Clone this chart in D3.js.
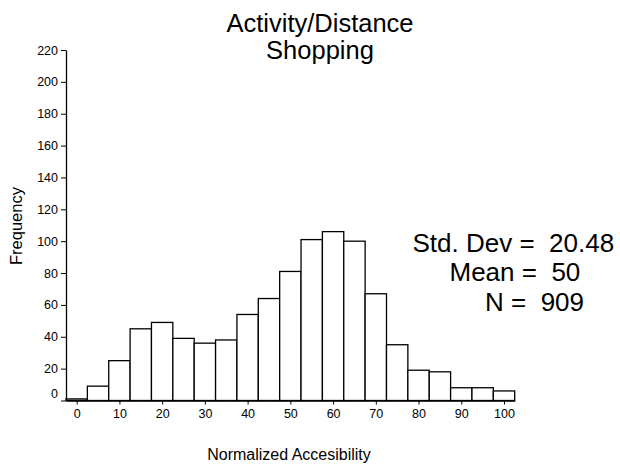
<!DOCTYPE html>
<html>
<head>
<meta charset="utf-8">
<script src="https://cdn.jsdelivr.net/npm/d3@7"></script>
<style>
  html, body { margin: 0; padding: 0; background: #fff; }
  text { font-family: Arial, "Liberation Sans", sans-serif; fill: #000; }
</style>
</head>
<body>
<svg id="chart" width="620" height="466"></svg>
<script>
// Data
const binCenters = [0, 5, 10, 15, 20, 25, 30, 35, 40, 45, 50, 55, 60, 65, 70, 75, 80, 85, 90, 95, 100];
const frequencies = [1, 9, 25, 45, 49, 39, 36, 38, 54, 64, 81, 101, 106, 100, 67, 35, 19, 18, 8, 8, 6];
const xTicks = [0, 10, 20, 30, 40, 50, 60, 70, 80, 90, 100];
const yTicks = [0, 20, 40, 60, 80, 100, 120, 140, 160, 180, 200, 220];
const titleLines = ["Activity/Distance", "Shopping"];
const statsLines = ["Std. Dev =  20.48", "Mean =  50", "N =  909"];
const binWidth = 5;

const svg = d3.select("#chart");

const x = d3.scaleLinear().domain([-2.5, 102.5]).range([66, 514.7]);
const y = d3.scaleLinear().domain([0, 220]).range([400.5, 50]);

// Bars
svg.append("g").selectAll("rect")
  .data(binCenters.map((c, i) => ({ c, v: frequencies[i] })))
  .join("rect")
  .attr("x", d => x(d.c - binWidth / 2))
  .attr("y", d => y(d.v))
  .attr("width", d => x(d.c + binWidth / 2) - x(d.c - binWidth / 2))
  .attr("height", d => y(0) - y(d.v))
  .attr("fill", "#fff")
  .attr("stroke", "#000")
  .attr("stroke-width", 1.3);

// Y axis
const yAxis = svg.append("g")
  .attr("transform", `translate(${x(-2.5)},0)`)
  .call(d3.axisLeft(y).tickValues(yTicks).tickSize(5).tickPadding(3).tickSizeOuter(0));
yAxis.select(".domain").attr("stroke-width", 1.3);
yAxis.selectAll("text").style("font-size", "12.5px").attr("font-family", "Arial, 'Liberation Sans', sans-serif");
yAxis.selectAll(".tick").filter(d => d === 0).select("text").attr("dy", "-0.25em");

// X axis
const xAxis = svg.append("g")
  .attr("transform", `translate(0,${y(0)})`)
  .call(d3.axisBottom(x).tickValues(xTicks).tickSize(4).tickPadding(5).tickSizeOuter(0));
xAxis.select(".domain").attr("stroke-width", 1.3);
xAxis.selectAll("text").style("font-size", "12.5px").attr("font-family", "Arial, 'Liberation Sans', sans-serif");

// Title
svg.append("g").selectAll("text")
  .data(titleLines)
  .join("text")
  .attr("x", 320)
  .attr("y", (d, i) => 31.5 + i * 27)
  .attr("text-anchor", "middle")
  .style("font-size", "25.5px")
  .text(d => d);

// Axis titles
svg.append("text")
  .attr("x", 289)
  .attr("y", 460)
  .attr("text-anchor", "middle")
  .style("font-size", "16px")
  .text("Normalized Accesibility");

svg.append("text")
  .attr("transform", "translate(22,226) rotate(-90)")
  .attr("text-anchor", "middle")
  .style("font-size", "16.5px")
  .text("Frequency");

// Stats
const statsX = [412.5, 449.5, 485];
svg.append("g").selectAll("text")
  .data(statsLines)
  .join("text")
  .attr("x", (d, i) => statsX[i])
  .attr("y", (d, i) => 251.5 + i * 29.5)
  .style("font-size", "26px")
  .style("white-space", "pre")
  .attr("xml:space", "preserve")
  .text(d => d);
</script>
</body>
</html>
